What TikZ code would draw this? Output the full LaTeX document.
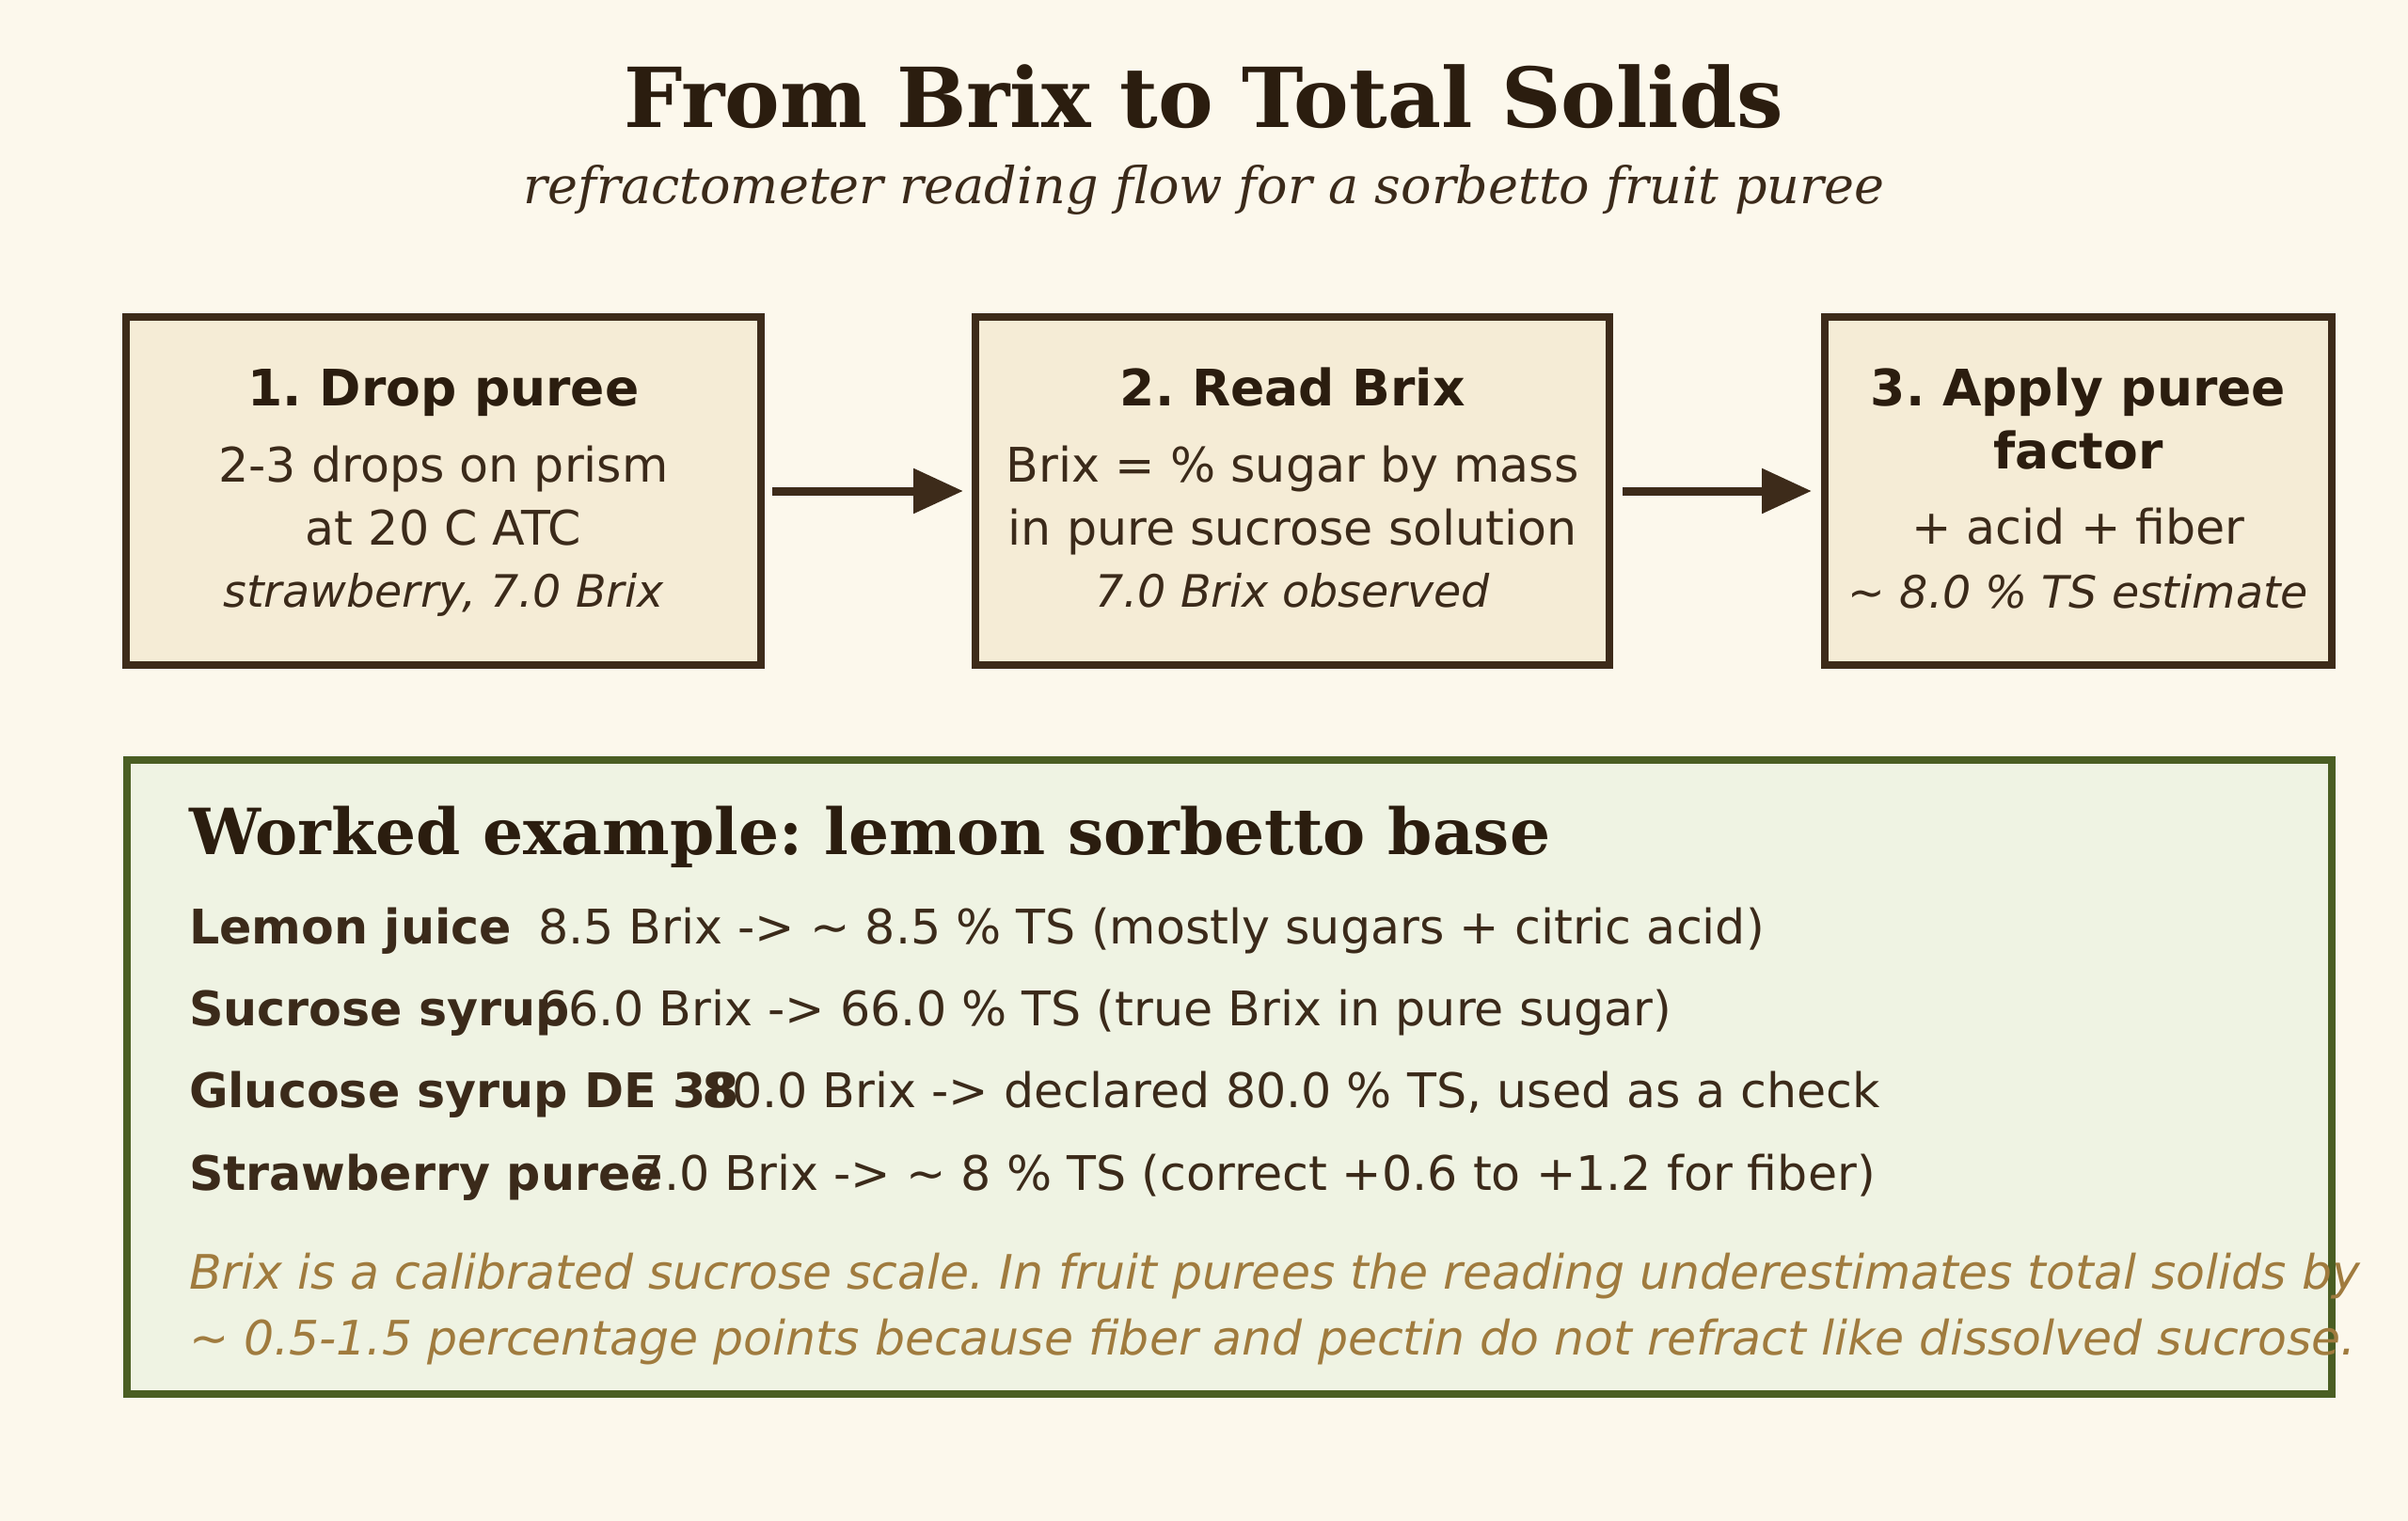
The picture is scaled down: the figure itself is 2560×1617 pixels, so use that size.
\documentclass[tikz,border=0pt]{standalone}
\usepackage{fontspec}
\setmainfont{DejaVu Sans}
\newfontfamily\dvserif{DejaVu Serif}
\usetikzlibrary{arrows.meta}
\definecolor{bg}{HTML}{FCF8EC}
\definecolor{boxfill}{HTML}{F5ECD6}
\definecolor{boxline}{HTML}{3D2B1A}
\definecolor{ink}{HTML}{2B1D0F}
\definecolor{body}{HTML}{3B2A1A}
\definecolor{exfill}{HTML}{EFF3E3}
\definecolor{exline}{HTML}{4A5E23}
\definecolor{note}{HTML}{A07B3E}
\begin{document}
\frenchspacing
\begin{tikzpicture}[x=1pt,y=-1pt,
  stepbox/.style={draw=boxline, fill=boxfill, line width=8pt, outer sep=0pt, inner sep=0pt, minimum height=370pt},
  exbox/.style={draw=exline, fill=exfill, line width=8pt, outer sep=0pt, inner sep=0pt},
  conn/.style={draw=boxline, line width=9pt, -{Triangle[length=53pt,width=46pt]}},
  txt/.style={anchor=base, inner sep=0pt, outer sep=0pt},
  ltxt/.style={anchor=base west, inner sep=0pt, outer sep=0pt},
  ttl/.style={txt, text=ink, font=\dvserif\bfseries\fontsize{88}{100}\selectfont},
  sub/.style={txt, text=body, font=\dvserif\itshape\fontsize{54}{64}\selectfont},
  head/.style={txt, text=ink, font=\bfseries\fontsize{53.5}{64}\selectfont},
  bodytxt/.style={txt, text=body, font=\fontsize{50.67}{60}\selectfont},
  itxt/.style={txt, text=body, font=\itshape\fontsize{47.5}{56}\selectfont},
  exttl/.style={ltxt, text=ink, font=\dvserif\bfseries\fontsize{67.7}{80}\selectfont},
  rowlab/.style={ltxt, text=body, font=\bfseries\fontsize{50.67}{60}\selectfont},
  rowval/.style={ltxt, text=body, font=\fontsize{50.67}{60}\selectfont},
  notetxt/.style={ltxt, text=note, font=\itshape\fontsize{50.5}{60}\selectfont}
]
\path[use as bounding box, fill=bg] (0,0) rectangle (2560,1617);

\node[ttl] (title) at (1280,135) {From Brix to Total Solids};
\node[sub] (subtitle) at (1280,216) {refractometer reading flow for a sorbetto fruit puree};

% step boxes
\node[stepbox, minimum width=675pt] (b1) at (471.5,522) {};
\node[stepbox, minimum width=674pt] (b2) at (1374.3,522) {};
\node[stepbox, minimum width=539pt] (b3) at (2209.5,522) {};

\node[head] (b1h) at (471.5,431.7) {1. Drop puree};
\node[bodytxt] (b1a) at (471.5,512.7) {2-3 drops on prism};
\node[bodytxt] (b1b) at (471.5,579) {at 20 C ATC};
\node[itxt] (b1c) at (471.5,645) {strawberry, 7.0 Brix};

\node[head] (b2h) at (1374.3,431.7) {2. Read Brix};
\node[bodytxt] (b2a) at (1374.3,512.7) {Brix = \% sugar by mass};
\node[bodytxt] (b2b) at (1374.3,579) {in pure sucrose solution};
\node[itxt] (b2c) at (1374.3,645) {7.0 Brix observed};

\node[head] (b3h) at (2209.5,431.7) {3. Apply puree};
\node[head] (b3h2) at (2209.5,498) {factor};
\node[bodytxt] (b3a) at (2209.5,578) {+ acid + fiber};
\node[itxt] (b3b) at (2209.5,646) {\textasciitilde{} 8.0 \% TS estimate};

% connectors
\draw[conn] ([xshift=12pt]b1.east) -- ([xshift=-13.3pt]b2.west);
\draw[conn] ([xshift=13.7pt]b2.east) -- ([xshift=-14pt]b3.west);

% worked example
\node[exbox, minimum width=2344pt, minimum height=674pt] (ex) at (1307,1145) {};
\node[exttl] (exh) at (201,908.6) {Worked example: lemon sorbetto base};

\node[rowlab] (l1) at (201,1003) {Lemon juice};
\node[rowval] (v1) at (572,1003) {8.5 Brix -> \textasciitilde{} 8.5 \% TS (mostly sugars + citric acid)};
\node[rowlab] (l2) at (201,1090) {Sucrose syrup};
\node[rowval] (v2) at (572,1090) {66.0 Brix -> 66.0 \% TS (true Brix in pure sugar)};
\node[rowlab] (l3) at (201,1177) {Glucose syrup DE 38};
\node[rowval] (v3) at (746,1177) {80.0 Brix -> declared 80.0 \% TS, used as a check};
\node[rowlab] (l4) at (201,1265) {Strawberry puree};
\node[rowval] (v4) at (674,1265) {7.0 Brix -> \textasciitilde{} 8 \% TS (correct +0.6 to +1.2 for fiber)};

\node[notetxt] (n1) at (201,1370) {Brix is a calibrated sucrose scale. In fruit purees the reading underestimates total solids by};
\node[notetxt] (n2) at (201,1440) {\textasciitilde{} 0.5-1.5 percentage points because fiber and pectin do not refract like dissolved sucrose.};
\end{tikzpicture}
\end{document}
